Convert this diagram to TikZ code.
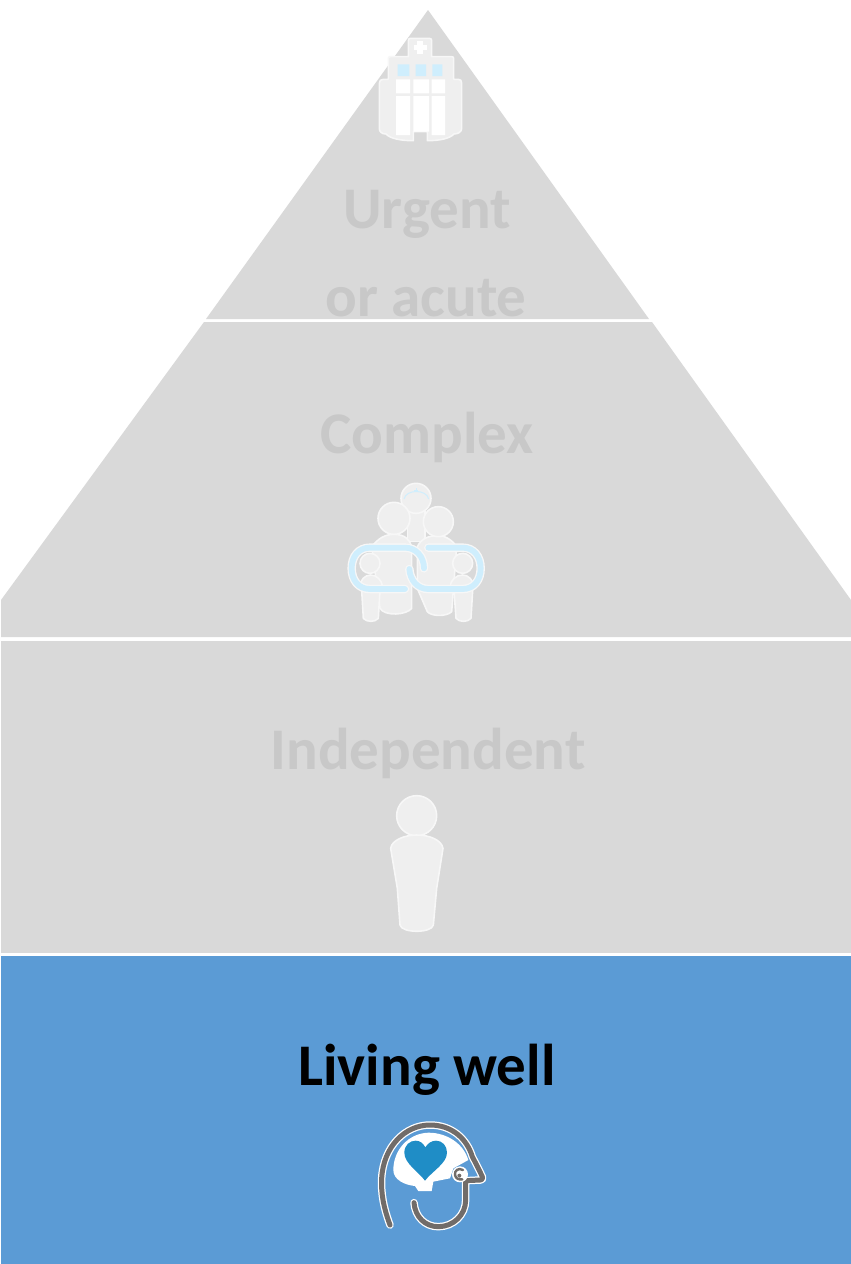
\documentclass[tikz,border=0pt]{standalone}
\usepackage{fontspec}
\setmainfont{Carlito}
\definecolor{tierg}{HTML}{D9D9D9}
\definecolor{tierb}{HTML}{5B9BD5}
\definecolor{labelg}{HTML}{C8C8C8}
\definecolor{iconf}{HTML}{EFEFEF}
\definecolor{iconl}{HTML}{F7F7F7}
\definecolor{linkb}{HTML}{CFEEFD}
\definecolor{headg}{HTML}{716C69}
\definecolor{heartb}{HTML}{1F8DC6}
\tikzset{
  tier/.style={fill=tierg,draw=none},
  tierlabel/.style={anchor=base,font=\bfseries\fontsize{59}{59}\selectfont,text=labelg,inner sep=0pt},
  iconpart/.style={fill=iconf,draw=iconl,line width=1.6pt,line join=round},
  chain/.style={draw=iconl,line width=8.5pt,line cap=round},
  chainin/.style={draw=linkb,line width=5.8pt,line cap=round},
  headw/.style={draw=white,line width=7.5pt,line cap=round,line join=round},
  headl/.style={draw=headg,line width=5pt,line cap=round,line join=round},
}
\begin{document}
\begin{tikzpicture}[x=1pt,y=-1pt]
\useasboundingbox (0,0) rectangle (851,1264);
\fill[white] (0,0) rectangle (851,1264);
% tiers
\fill[tier] (428,10) -- (649,319) -- (206,319) -- cycle;
\fill[tier] (204,322) -- (652,322) -- (851,600) -- (851,637) -- (1,637) -- (1,600) -- cycle;
\fill[tier] (1,641) rectangle (851,953);
\fill[tierb] (1,956) rectangle (851,1264);
% hospital
\begin{scope}[shift={(350pt,-20pt)},x=0.33333pt,y=-0.33333pt]
\draw[iconpart] (175,110) -- (175,62) .. controls (175,57) and (178,55) .. (182,55) -- (238,55) .. controls (243,55) and (245,58) .. (245,62) -- (245,110) -- (305,110) .. controls (309,110) and (311,112) .. (311,116) -- (311,178) -- (325,178) .. controls (332,178) and (335,182) .. (335,190) -- (335,325) .. controls (335,335) and (325,342) .. (312,342) .. controls (300,355) and (270,362) .. (232,362) -- (232,335) -- (190,335) -- (190,362) .. controls (150,362) and (120,355) .. (108,342) .. controls (95,342) and (88,335) .. (88,325) -- (88,190) .. controls (88,182) and (92,178) .. (100,178) -- (115,178) -- (115,116) .. controls (115,112) and (117,110) .. (121,110) -- cycle;
\fill[white] (202,62) rectangle (220,102);
\fill[white] (192,74) rectangle (230,90);
\fill[linkb] (143,133) rectangle (178,168) (197,133) rectangle (228,168) (247,133) rectangle (277,168);
\fill[white] (138,178) rectangle (180,220) (190,178) rectangle (237,220) (245,178) rectangle (285,220);
\fill[white] (138,228) rectangle (180,345) (190,228) rectangle (237,335) (245,228) rectangle (285,345);
\end{scope}
% care team
\begin{scope}[shift={(330pt,-475pt)},x=0.33333pt,y=-0.33333pt]
\draw[iconpart] (232,90) -- (232,200) -- (285,200) -- (285,90) -- cycle;
\draw[iconpart] (258,70) circle[radius=15pt];
\draw[draw=linkb,line width=1pt] (222,72) .. controls (228,42) and (290,42) .. (296,72);
\draw[draw=linkb,line width=1pt] (258,40) -- (258,50) (253,45) -- (263,45);
% adult bodies
\draw[iconpart] (125,215) .. controls (145,190) and (165,178) .. (192,178) .. controls (225,178) and (240,195) .. (245,215) -- (245,400) .. controls (230,420) and (165,425) .. (150,400) -- cycle;
\draw[iconpart] (262,215) .. controls (275,190) and (295,182) .. (325,182) .. controls (350,182) and (370,200) .. (380,215) -- (365,410) .. controls (350,425) and (305,425) .. (292,410) -- (262,340) -- cycle;
\draw[iconpart] (192,130) circle[radius=16pt];
\draw[iconpart] (325,140) circle[radius=15pt];
% small figures
\draw[iconpart] (95,345) -- (150,345) -- (145,430) .. controls (135,442) and (110,442) .. (100,430) -- cycle;
\draw[iconpart] (372,345) -- (428,345) -- (423,430) .. controls (413,442) and (388,442) .. (378,430) -- cycle;
\draw[iconpart] (90,335) .. controls (90,315) and (105,300) .. (122,300) .. controls (140,300) and (155,315) .. (158,335) -- (150,345) -- (95,345) -- cycle;
\draw[iconpart] (360,335) .. controls (362,315) and (378,300) .. (398,300) .. controls (415,300) and (430,315) .. (432,335) -- (428,345) -- (372,345) -- cycle;
\draw[iconpart] (120,265) circle[radius=10pt];
\draw[iconpart] (398,265) circle[radius=10pt];
% links
\draw[chain] (225,342) -- (120,342) .. controls (85,342) and (65,315) .. (65,280) .. controls (65,245) and (85,218) .. (120,218) -- (225,218) .. controls (258,218) and (282,245) .. (282,280);
\draw[chainin] (225,342) -- (120,342) .. controls (85,342) and (65,315) .. (65,280) .. controls (65,245) and (85,218) .. (120,218) -- (225,218) .. controls (258,218) and (282,245) .. (282,280);
\draw[chain] (295,218) -- (398,218) .. controls (432,218) and (452,245) .. (452,280) .. controls (452,315) and (432,342) .. (398,342) -- (295,342) .. controls (262,342) and (240,315) .. (238,282);
\draw[chainin] (295,218) -- (398,218) .. controls (432,218) and (452,245) .. (452,280) .. controls (452,315) and (432,342) .. (398,342) -- (295,342) .. controls (262,342) and (240,315) .. (238,282);
\end{scope}
% person
\begin{scope}[shift={(370pt,-785pt)},x=0.33333pt,y=-0.33333pt]
\draw[iconpart] (140,92) circle[radius=20pt];
\draw[iconpart] (62,190) .. controls (65,165) and (105,150) .. (140,150) .. controls (178,150) and (215,165) .. (219,190) -- (200,310) -- (190,420) .. controls (185,445) and (95,445) .. (90,420) -- (82,310) -- cycle;
\end{scope}
% head
\begin{scope}[shift={(365pt,-1110pt)},x=0.33333pt,y=-0.33333pt]
\fill[white] (85,180) .. controls (85,120) and (130,70) .. (190,68) .. controls (245,68) and (295,100) .. (310,150) -- (265,175) -- (255,205) -- (205,215) -- (200,243) -- (160,243) -- (150,228) .. controls (120,225) and (85,210) .. (85,180) -- cycle;
\draw[headw] (75,345) .. controls (55,290) and (48,250) .. (50,205) .. controls (55,110) and (120,45) .. (195,45) .. controls (260,45) and (305,85) .. (322,140) .. controls (335,165) and (345,185) .. (352,200) .. controls (354,206) and (352,210) .. (346,210) -- (302,212) -- (302,270) .. controls (302,315) and (265,350) .. (220,350) .. controls (180,350) and (150,320) .. (147,278);
\draw[headl] (75,345) .. controls (55,290) and (48,250) .. (50,205) .. controls (55,110) and (120,45) .. (195,45) .. controls (260,45) and (305,85) .. (322,140) .. controls (335,165) and (345,185) .. (352,200) .. controls (354,206) and (352,210) .. (346,210) -- (302,212) -- (302,270) .. controls (302,315) and (265,350) .. (220,350) .. controls (180,350) and (150,320) .. (147,278);
\fill[heartb] (180,212) .. controls (160,185) and (118,160) .. (118,128) .. controls (118,105) and (135,92) .. (152,92) .. controls (165,92) and (175,100) .. (181,112) .. controls (188,100) and (200,92) .. (213,92) .. controls (232,92) and (246,107) .. (246,128) .. controls (246,160) and (200,185) .. (180,212) -- cycle;
\fill[white] (285,193) circle[radius=8pt];
\draw[draw=headg,line width=2.4pt,line cap=round] (294,180) .. controls (280,172) and (268,182) .. (270,195) .. controls (272,206) and (282,210) .. (292,208);
\fill[headg] (283,197) circle[radius=2pt];
\end{scope}
% labels
\node[tierlabel] (urgent) at (427,228) {Urgent};
\node[tierlabel] (acute) at (426,316) {or acute};
\node[tierlabel] (complex) at (427,453) {Complex};
\node[tierlabel] (independent) at (428,769) {Independent};
\node[tierlabel,text=black] (living) at (427,1085) {Living well};
\end{tikzpicture}
\end{document}
